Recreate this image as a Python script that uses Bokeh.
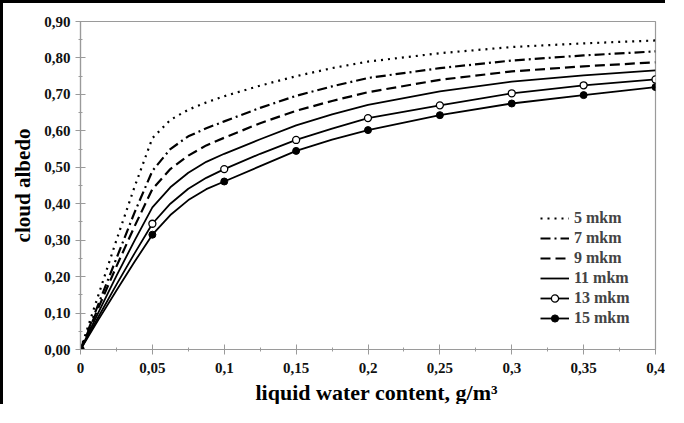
from bokeh.plotting import figure
from bokeh.models import FixedTicker, Title
from bokeh.embed import file_html
from bokeh.resources import INLINE

# ---- data ----
x_values = [0, 0.0125, 0.025, 0.0375, 0.05, 0.0625, 0.075, 0.0875, 0.1, 0.125, 0.15, 0.175, 0.2, 0.25, 0.3, 0.35, 0.4]
albedo_5 = [0, 0.15, 0.30, 0.445, 0.58, 0.63, 0.658, 0.678, 0.695, 0.724, 0.75, 0.772, 0.79, 0.813, 0.83, 0.84, 0.848]
albedo_7 = [0, 0.125, 0.25, 0.375, 0.49, 0.55, 0.585, 0.607, 0.626, 0.663, 0.696, 0.722, 0.745, 0.772, 0.793, 0.807, 0.818]
albedo_9 = [0, 0.115, 0.228, 0.337, 0.44, 0.495, 0.532, 0.56, 0.581, 0.621, 0.655, 0.682, 0.706, 0.74, 0.763, 0.777, 0.788]
albedo_11 = [0, 0.102, 0.202, 0.298, 0.39, 0.445, 0.485, 0.515, 0.537, 0.577, 0.615, 0.645, 0.671, 0.708, 0.735, 0.752, 0.766]
albedo_13 = [0, 0.09, 0.178, 0.263, 0.345, 0.40, 0.441, 0.471, 0.495, 0.537, 0.575, 0.606, 0.635, 0.67, 0.703, 0.725, 0.741]
albedo_15 = [0, 0.082, 0.162, 0.24, 0.315, 0.369, 0.41, 0.44, 0.461, 0.503, 0.545, 0.576, 0.602, 0.643, 0.675, 0.698, 0.72]
series_labels = ["5 mkm", "7 mkm", "9 mkm", "11 mkm", "13 mkm", "15 mkm"]

x_ticks = [0, 0.05, 0.1, 0.15, 0.2, 0.25, 0.3, 0.35, 0.4]
x_tick_labels = ["0", "0,05", "0,1", "0,15", "0,2", "0,25", "0,3", "0,35", "0,4"]
y_ticks = [0, 0.1, 0.2, 0.3, 0.4, 0.5, 0.6, 0.7, 0.8, 0.9]
y_tick_labels = ["0,00", "0,10", "0,20", "0,30", "0,40", "0,50", "0,60", "0,70", "0,80", "0,90"]
x_title = "liquid water content, g/m³"
y_title = "cloud albedo"

FONT = "Liberation Serif"

p = figure(width=665, height=404, x_range=(0, 0.4), y_range=(0, 0.9),
           output_backend="svg", toolbar_location=None,
           min_border_left=77, min_border_right=13, min_border_top=18, min_border_bottom=57)
p.styles = {"border-top": "3px solid black", "border-left": "3px solid black"}

p.xgrid.visible = False
p.ygrid.visible = False
p.outline_line_color = "#9a9a9a"
p.outline_line_width = 1.2
p.background_fill_color = "white"
p.border_fill_color = "white"

# lines
styles = [
    (albedo_5, "2 5", 2.2),
    (albedo_7, "10 4 2 4", 2.2),
    (albedo_9, "10 5", 2.2),
    (albedo_11, "solid", 1.8),
    (albedo_13, "solid", 1.8),
    (albedo_15, "solid", 1.8),
]
for (ys, dash, w), lab in zip(styles, series_labels):
    p.line(x_values, ys, line_color="black", line_width=w, line_dash=dash, legend_label=lab)

# markers at the data points (every 0.05)
mk_idx = [i for i, x in enumerate(x_values) if abs(round(x / 0.05) * 0.05 - x) < 1e-9]
mx = [x_values[i] for i in mk_idx]
p.scatter(mx, [albedo_13[i] for i in mk_idx], marker="circle", size=7,
          fill_color="white", line_color="black", line_width=1.3, legend_label="13 mkm")
p.scatter(mx, [albedo_15[i] for i in mk_idx], marker="circle", size=7,
          fill_color="black", line_color="black", legend_label="15 mkm")

# axes
minor_x = [t + 0.025 for t in x_ticks[:-1]]
minor_y = [t + 0.05 for t in y_ticks[:-1]]
p.xaxis.ticker = FixedTicker(ticks=x_ticks, minor_ticks=minor_x)
p.yaxis.ticker = FixedTicker(ticks=y_ticks, minor_ticks=minor_y)
p.xaxis.major_label_overrides = dict(zip(x_ticks, x_tick_labels))
p.yaxis.major_label_overrides = dict(zip(y_ticks, y_tick_labels))

for ax in (p.xaxis, p.yaxis):
    ax.axis_line_color = "#9a9a9a"
    ax.axis_line_width = 1.2
    ax.major_tick_line_color = "#9a9a9a"
    ax.minor_tick_line_color = "#9a9a9a"
    ax.major_tick_in = 5
    ax.major_tick_out = 5
    ax.minor_tick_in = 2
    ax.minor_tick_out = 2
    ax.major_label_text_font = FONT
    ax.major_label_text_font_style = "bold"
    ax.major_label_text_font_size = "15px"
    ax.major_label_text_color = "#111111"
    ax.axis_label_text_font = FONT
    ax.axis_label_text_font_style = "bold"
    ax.axis_label_text_font_size = "21px"
    ax.axis_label_text_color = "black"

p.xaxis.major_label_standoff = 8
p.yaxis.major_label_standoff = 5
p.yaxis.axis_label = y_title
p.yaxis.axis_label_standoff = 6

# x-axis title, placed slightly right of centre as in the reference
xt = Title(text=x_title, align="left", offset=175, text_font=FONT,
           text_font_style="bold", text_font_size="22px", text_color="black",
           standoff=5)
p.add_layout(xt, "below")

# legend
lg = p.legend[0]
lg.location = (460, 22)
lg.border_line_color = None
lg.background_fill_alpha = 0
lg.padding = 0
lg.margin = 0
lg.spacing = 2
lg.glyph_height = 18
lg.label_height = 18
lg.glyph_width = 29
lg.label_standoff = 5
lg.label_text_font = FONT
lg.label_text_font_style = "bold"
lg.label_text_font_size = "16px"

open("out.html", "w").write(file_html(p, INLINE))
